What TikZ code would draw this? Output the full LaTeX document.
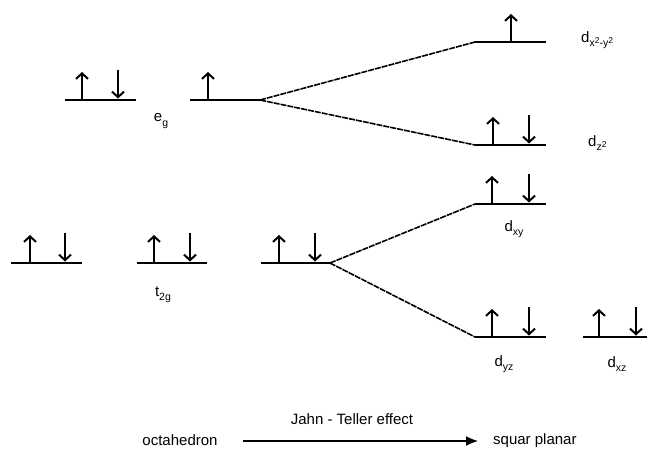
\documentclass[tikz,border=0pt]{standalone}
\usepackage{fontspec}
\setmainfont{Liberation Sans}
\usetikzlibrary{arrows.meta}
\newcommand\lsub[1]{\raisebox{-0.55ex}{\fontsize{10.5}{11}\selectfont #1}}
\newcommand\lsup[1]{\raisebox{0.5ex}{\fontsize{8.5}{9}\selectfont #1}}
\tikzset{
  level/.style={line width=1.4pt},
  split/.style={line width=1.6pt, dash pattern=on 6pt off 1pt},
  spinup/.style={line width=2.2pt, -{Straight Barb[length=5.5pt,width=12pt,line width=2pt]}},
  lbl/.style={font=\fontsize{15}{17}\selectfont, inner sep=0pt},
  big/.style={font=\fontsize{15}{18}\selectfont, inner sep=0pt},
}
\newcommand\up[2]{\draw[spinup] (#1,#2) -- (#1,#2-28);}
\newcommand\dn[2]{\draw[spinup] (#1,#2-30) -- (#1,#2-1.5);}
\begin{document}
\begin{tikzpicture}[x=1pt,y=-1pt]
\useasboundingbox (0,0) rectangle (650,448);
% octahedron e_g
\coordinate (egAL) at (65,100); \coordinate (egAR) at (136,100);
\draw[level] (egAL) -- (egAR);
\up{82}{100} \dn{118}{100}
% middle e_g
\coordinate (egBL) at (190,100); \coordinate (egBR) at (260,100);
\draw[level] (egBL) -- (egBR);
\up{208}{100}
% d x2-y2
\coordinate (dxyL2) at (475,42); \coordinate (dxyR2) at (546,42);
\draw[level] (dxyL2) -- (dxyR2);
\up{511}{42}
% d z2
\coordinate (dzL) at (475,145); \coordinate (dzR) at (546,145);
\draw[level] (dzL) -- (dzR);
\up{493}{145} \dn{529}{145}
% splitting e_g
\draw[split] (egBR) -- (dxyL2);
\draw[split] (egBR) -- (dzL);
% t2g octahedron
\coordinate (tAL) at (11,263); \coordinate (tAR) at (82,263);
\draw[level] (tAL) -- (tAR);
\up{30}{263} \dn{65}{263}
\coordinate (tBL) at (137,263); \coordinate (tBR) at (207,263);
\draw[level] (tBL) -- (tBR);
\up{154}{263} \dn{190}{263}
\coordinate (tCL) at (261,263); \coordinate (tCR) at (330,263);
\draw[level] (tCL) -- (tCR);
\up{279}{263} \dn{315}{263}
% d xy
\coordinate (xyL) at (475,204); \coordinate (xyR) at (546,204);
\draw[level] (xyL) -- (xyR);
\up{492}{204} \dn{529}{204}
% d yz
\coordinate (yzL) at (475,337); \coordinate (yzR) at (546,337);
\draw[level] (yzL) -- (yzR);
\up{492}{337} \dn{529}{337}
% d xz
\coordinate (xzL) at (583,337); \coordinate (xzR) at (647,337);
\draw[level] (xzL) -- (xzR);
\up{599}{337} \dn{636}{337}
% splitting t2g
\draw[split] (tCR) -- (xyL);
\draw[split] (tCR) -- (yzL);
% labels
\node[lbl] (leg) at (161,121) {e\lsub{g}};
\node[lbl] (lt2g) at (163,295) {t\lsub{2g}};
\node[lbl, anchor=west] (ldx2y2) at (581,40) {d\lsub{x\lsup{2}-y\lsup{2}}};
\node[lbl, anchor=west] (ldz2) at (588,143) {d\lsub{z\lsup{2}}};
\node[lbl] (ldxy) at (514,229) {d\lsub{xy}};
\node[lbl] (ldyz) at (504,364) {d\lsub{yz}};
\node[lbl] (ldxz) at (617,364) {d\lsub{xz}};
% bottom
\node[big] (oct) at (180,440) {octahedron};
\node[big, anchor=west] (sq) at (493,441) {squar planar};
\node[big] (jt) at (352,419) {Jahn - Teller effect};
\coordinate (aS) at (243,441); \coordinate (aE) at (478,441);
\draw[line width=1.4pt, -{Latex[length=12pt,width=10pt]}] (aS) -- (aE);
\end{tikzpicture}
\end{document}
